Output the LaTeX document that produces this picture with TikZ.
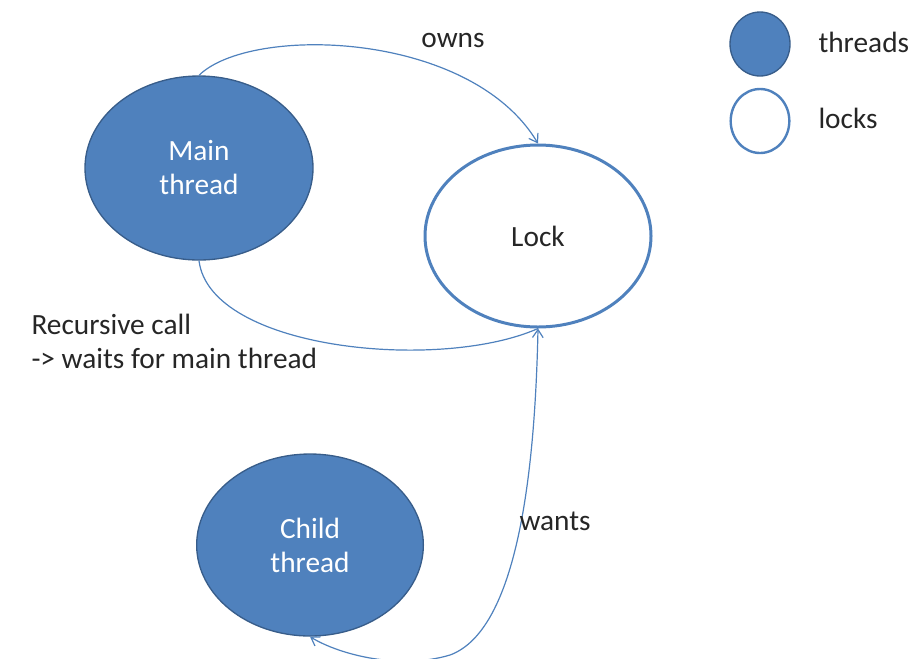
\documentclass[tikz,border=0pt]{standalone}
\usepackage{fontspec}
\setmainfont{Carlito}
\usetikzlibrary{shapes.geometric,arrows.meta}

\definecolor{threadblue}{RGB}{79,129,189}
\definecolor{threadedge}{RGB}{56,93,138}
\definecolor{labelgray}{RGB}{38,38,38}

\tikzset{every picture/.style={line width=0.75pt},
  threadnode/.style={ellipse, draw=threadedge, fill=threadblue, line width=1pt, inner sep=0pt,
    text=white, align=center, font=\fontsize{22}{25.5}\selectfont},
  locknode/.style={ellipse, draw=threadblue, fill=white, line width=2.25pt, inner sep=0pt,
    text=labelgray, align=center, font=\fontsize{22}{25.5}\selectfont},
  labeltext/.style={inner sep=0.75pt, text=labelgray, align=left, font=\fontsize{22}{25.5}\selectfont},
  link/.style={draw=threadblue, line width=0.9pt},
  linkarrow/.style={-{Straight Barb[length=6pt,width=8pt]}},
  linkboth/.style={{Straight Barb[length=6pt,width=8pt]}-{Straight Barb[length=6pt,width=8pt]}}
}

\begin{document}
\begin{tikzpicture}[x=0.75pt,y=0.75pt,yscale=-1,xscale=1]
\useasboundingbox (0,0) rectangle (912,658);

%Shape: Ellipse [id:main]
\node [threadnode, minimum width=171pt, minimum height=138pt] (main) at (199,168) {Main\\thread};
%Shape: Ellipse [id:lock]
\node [locknode, minimum width=169.5pt, minimum height=136.5pt] (lock) at (538,236) {Lock};
%Shape: Ellipse [id:child]
\node [threadnode, minimum width=170pt, minimum height=136.5pt] (child) at (310,545) {Child\\thread};

%Shape: Legend circles
\node [threadnode, minimum width=45pt, minimum height=48pt] (keythread) at (760,44) {};
\node [locknode, line width=1.8pt, minimum width=44pt, minimum height=48pt] (keylock) at (760,121) {};

%Curve Lines
\draw [link, linkarrow] (main.north) .. controls (250,25) and (470,30) .. (lock.north);
\draw [link] (main.south) .. controls (210,350) and (440,372) .. (lock.south);
\draw [link, linkboth] (lock.south) .. controls (535,470) and (518,630) .. (450,655) .. controls (400,670) and (340,655) .. (child.south);

% Text Node
\node [labeltext] (ownslbl) at (453,40) {owns};
% Text Node
\node [labeltext, anchor=west] (wantslbl) at (518,521) {wants};
% Text Node
\node [labeltext, anchor=west] (recursivelbl) at (30,341) {Recursive call\\-> waits for main thread};
% Text Node
\node [labeltext, anchor=west] (threadslbl) at (817,42) {threads};
% Text Node
\node [labeltext, anchor=west] (lockslbl) at (817,118) {locks};

\end{tikzpicture}
\end{document}
